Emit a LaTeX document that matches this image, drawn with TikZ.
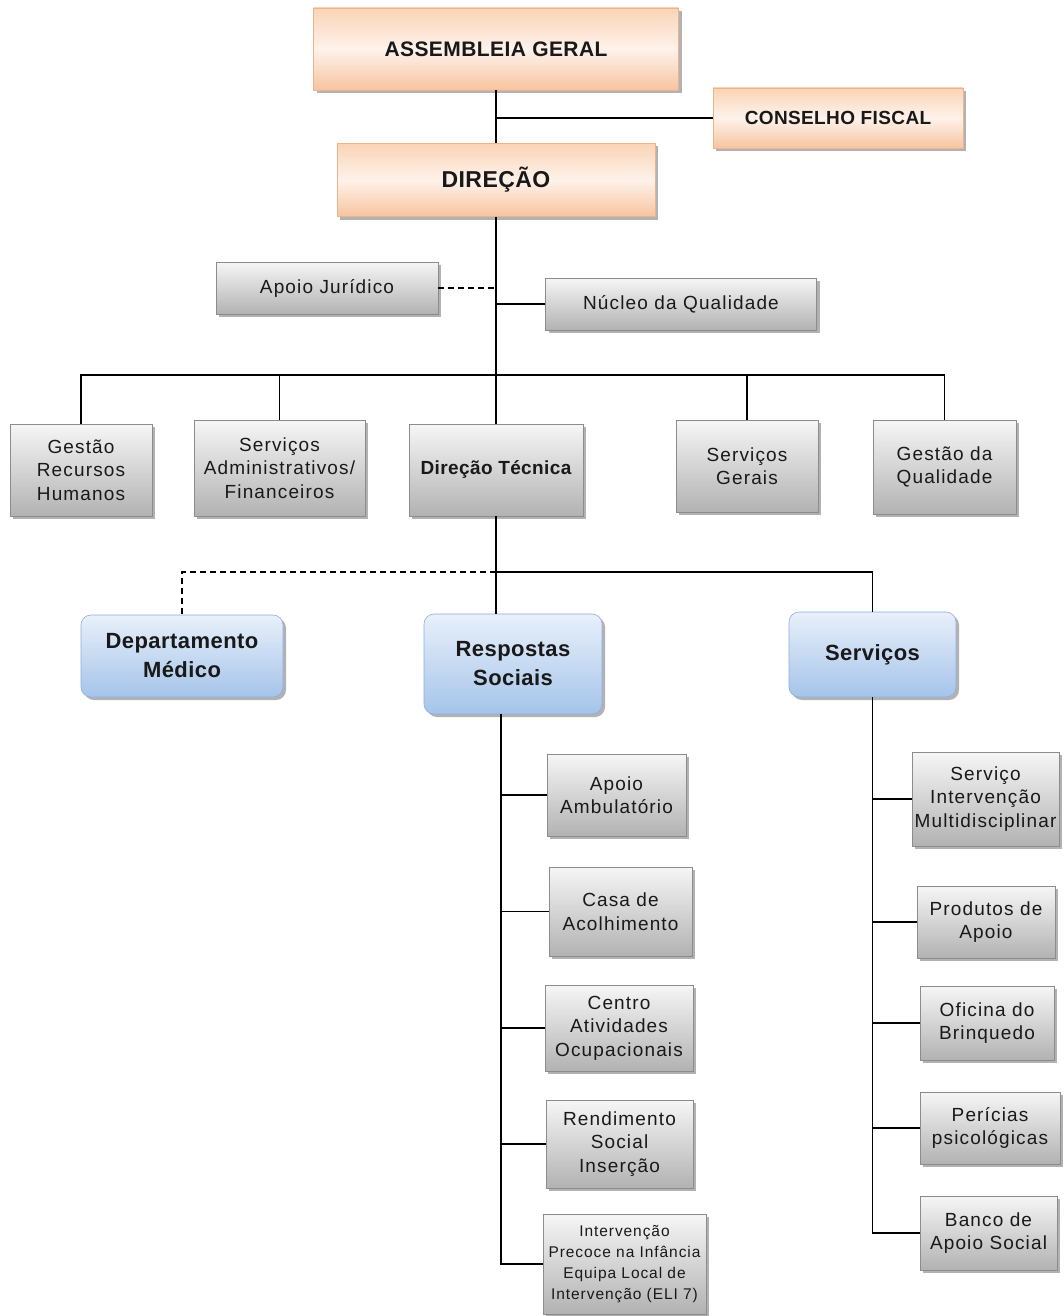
\documentclass[tikz,border=0pt]{standalone}
\usepackage{fontspec}
\setmainfont{Liberation Sans}
\newfontfamily\gfnt[LetterSpace=6]{Liberation Sans}
\newfontfamily\bfnt[LetterSpace=2]{Liberation Sans Bold}
\usetikzlibrary{shadows,calc}
\definecolor{orT}{RGB}{250,212,182}
\definecolor{orM}{RGB}{254,242,234}
\definecolor{orB}{RGB}{247,196,160}
\definecolor{orD}{RGB}{236,180,140}
\definecolor{grT}{RGB}{246,246,246}
\definecolor{grB}{RGB}{178,178,178}
\definecolor{grD}{RGB}{140,140,140}
\definecolor{blT}{RGB}{232,240,250}
\definecolor{blB}{RGB}{165,196,234}
\definecolor{blD}{RGB}{140,175,220}
\tikzset{
  x=1pt, y=-1pt,
  shad/.style={drop shadow={shadow xshift=3pt, shadow yshift=-3pt, fill=black!55, opacity=.55}},
  obox/.style={shad, draw=orD, line width=0.6pt, top color=orT, bottom color=orB, middle color=orM, inner sep=0pt, align=center, text=black!90},
  gbox/.style={shad, draw=grD, line width=0.6pt, top color=grT, bottom color=grB, inner sep=0pt, align=center, text=black!90, font=\gfnt\fontsize{19}{23.5}\selectfont},
  bbox/.style={shad, draw=blD, line width=0.6pt, rounded corners=10pt, top color=blT, bottom color=blB, inner sep=0pt, align=center, text=black!90, font=\bfnt\fontsize{22}{29}\selectfont},
  conn/.style={line width=1.3pt, black},
  dconn/.style={conn, dash pattern=on 6pt off 4pt},
}
\begin{document}
\begin{tikzpicture}
\fill[white] (0,0) rectangle (1063,1316);
\useasboundingbox (0,0) rectangle (1063,1316);

% top level
\node[obox, minimum width=365pt, minimum height=82pt, font=\bfnt\fontsize{21}{25}\selectfont] (ag) at (496,49) {ASSEMBLEIA GERAL};
\node[obox, minimum width=250pt, minimum height=60pt, font=\bfnt\fontsize{19}{23}\selectfont] (cf) at (838,118) {CONSELHO FISCAL};
\node[obox, minimum width=318pt, minimum height=73pt, font=\bfnt\fontsize{23}{27}\selectfont] (dir) at (496,180) {DIREÇÃO};

\node[gbox, minimum width=222pt, minimum height=52pt] (aj) at (327,288) {Apoio Jurídico};
\node[gbox, minimum width=271pt, minimum height=52pt] (nq) at (681,304) {Núcleo da Qualidade};

\node[gbox, minimum width=142pt, minimum height=92pt] (grh) at (81,470) {Gestão\\Recursos\\Humanos};
\node[gbox, minimum width=171pt, minimum height=96pt] (sa) at (279.5,468) {Serviços\\Administrativos/\\Financeiros};
\node[gbox, minimum width=174pt, minimum height=92pt, font=\bfnt\fontsize{19}{23.5}\selectfont] (dt) at (496,470) {Direção Técnica};
\node[gbox, minimum width=142pt, minimum height=92pt] (sg) at (747,466) {Serviços\\Gerais};
\node[gbox, minimum width=143pt, minimum height=94pt] (gq) at (944.5,467) {Gestão da\\Qualidade};

\node[bbox, minimum width=202pt, minimum height=82pt] (dm) at (182,656) {Departamento\\Médico};
\node[bbox, minimum width=178pt, minimum height=100pt] (rs) at (513,664) {Respostas\\Sociais};
\node[bbox, minimum width=167pt, minimum height=85pt] (serv) at (872.5,654.5) {Serviços};

\node[gbox, minimum width=139pt, minimum height=82pt] (aa) at (616.5,795) {Apoio\\Ambulatório};
\node[gbox, minimum width=143pt, minimum height=89pt] (ca) at (620.5,911.5) {Casa de\\Acolhimento};
\node[gbox, minimum width=148pt, minimum height=86pt] (cao) at (619,1028) {Centro\\Atividades\\Ocupacionais};
\node[gbox, minimum width=147pt, minimum height=88pt] (rsi) at (619.5,1144) {Rendimento\\Social\\Inserção};
\node[gbox, minimum width=163pt, minimum height=100pt, font=\gfnt\fontsize{15.5}{21}\selectfont] (ipi) at (624.5,1264) {Intervenção\\Precoce na Infância\\Equipa Local de\\Intervenção (ELI 7)};

\node[gbox, minimum width=147pt, minimum height=94pt] (sim) at (985.5,799) {Serviço\\Intervenção\\Multidisciplinar};
\node[gbox, minimum width=138pt, minimum height=72pt] (pa) at (986,922) {Produtos de\\Apoio};
\node[gbox, minimum width=134pt, minimum height=74pt] (ob) at (987,1023) {Oficina do\\Brinquedo};
\node[gbox, minimum width=140pt, minimum height=72pt] (pp) at (990,1128) {Perícias\\psicológicas};
\node[gbox, minimum width=137pt, minimum height=74pt] (bas) at (988.5,1233) {Banco de\\Apoio Social};

% connectors
\coordinate (bar) at (496,375);
\coordinate (hub) at (496,572);
\coordinate (rsb) at ($(rs.south)+(-12,0)$);
\coordinate (svb) at (serv.south);

\draw[conn] (ag.south) -- (ag.south |- dir.north);
\draw[conn] (ag.south |- cf.west) -- (cf.west);
\draw[conn] (dir.south) -- (dt.north);
\draw[dconn] (aj.east) -- (aj.east -| dir.south);
\draw[conn] (nq.west) -- (nq.west -| dir.south);
\draw[conn] (grh.north) |- (bar) -| (gq.north);
\draw[conn] (sa.north) -- (sa.north |- bar);
\draw[conn] (sg.north) -- (sg.north |- bar);
\draw[conn] (dt.south) -- (dt.south |- rs.north);
\draw[conn] (hub) -| (serv.north);
\draw[dconn] (hub) -| (dm.north);

\foreach \c in {aa,ca,cao,rsi,ipi} \draw[conn] (rsb) |- (\c.west);
\foreach \c in {sim,pa,ob,pp,bas} \draw[conn] (svb) |- (\c.west);
\end{tikzpicture}
\end{document}
